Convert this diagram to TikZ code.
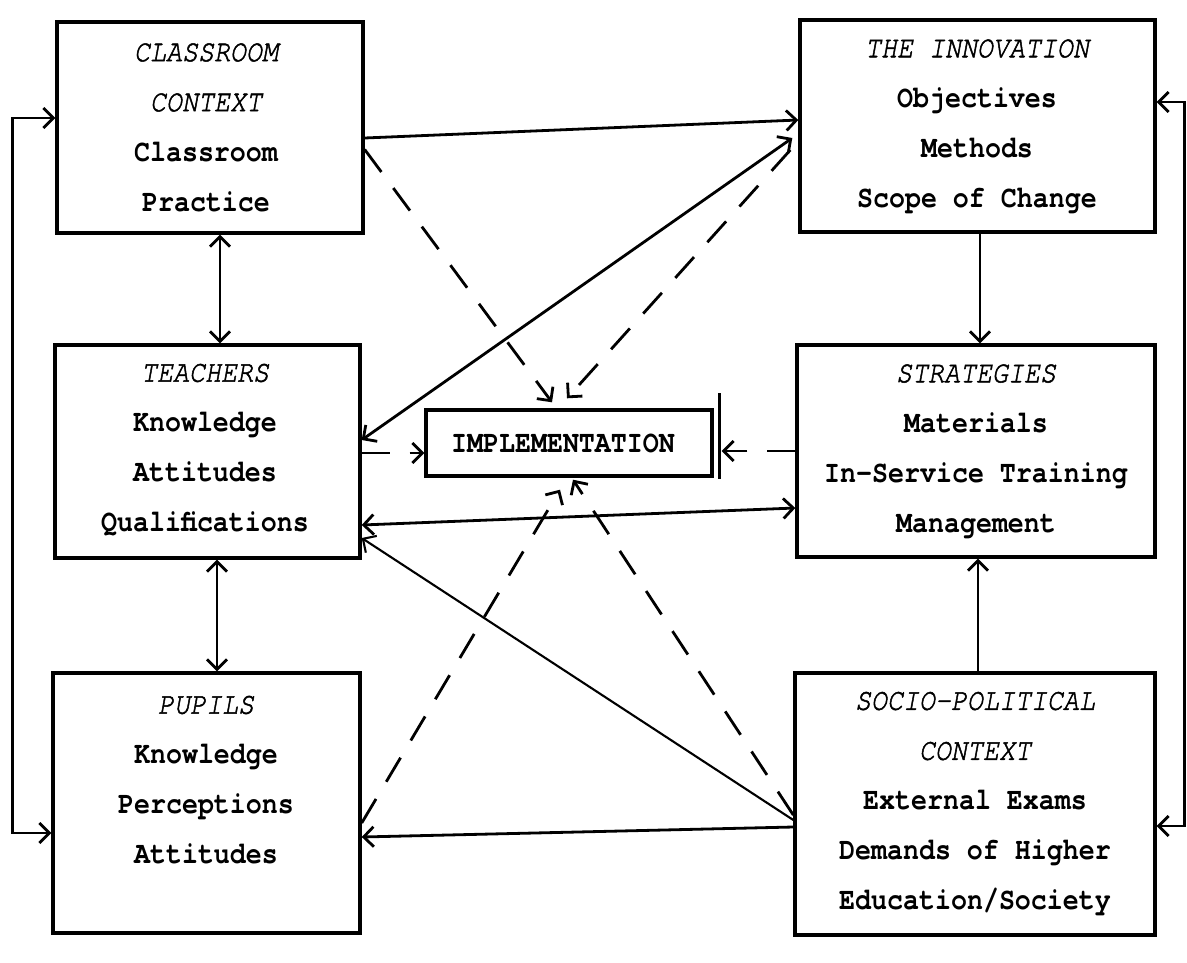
\documentclass[tikz,border=0pt]{standalone}
\usepackage{fontspec}
\newfontfamily\tw{TeX Gyre Cursor}[FakeStretch=0.86]
\newfontfamily\twi{TeX Gyre Cursor}[FakeStretch=0.86,FakeBold=1.6]
\usetikzlibrary{arrows.meta}
\newcommand\hd[1]{{\twi\mdseries\itshape #1}}
\begin{document}
\begin{tikzpicture}[x=1pt,y=-1pt,
  box/.style={draw,line width=3.4pt,inner sep=0pt},
  txt/.style={align=center,font=\tw\bfseries\fontsize{31}{50}\selectfont,inner sep=0pt},
  conn/.style={line width=2.8pt,>={Straight Barb[length=10pt,width=20pt]}},
  thin/.style={conn,line width=2.1pt},
  dsh/.style={conn,dash pattern=on 28pt off 20pt},
]
\useasboundingbox (0,0) rectangle (1187,962);
\fill[white] (0,0) rectangle (1187,962);

% boxes
\node[box,minimum width=306pt,minimum height=211pt] (cls) at (210,127.5) {};
\node[box,minimum width=355pt,minimum height=212pt] (inn) at (977.5,126) {};
\node[box,minimum width=305pt,minimum height=213pt] (tea) at (207.5,451.5) {};
\node[box,minimum width=358pt,minimum height=212pt] (str) at (976,451) {};
\node[box,minimum width=307pt,minimum height=260pt] (pup) at (206.5,803) {};
\node[box,minimum width=360pt,minimum height=262pt] (soc) at (975,804) {};
\node[box,minimum width=286pt,minimum height=66pt] (imp) at (569,443) {};
\draw[line width=3.4pt] ([xshift=6pt,yshift=15pt]imp.north east) -- ([xshift=6pt,yshift=-1pt]imp.south east);

% texts
\node[txt] (clsT) at (206,127.5) {\hd{CLASSROOM}\\\hd{CONTEXT}\\Classroom\\Practice};
\node[txt] (innT) at (977,126.5) {\hd{THE INNOVATION}\\Objectives\\Methods\\Scope of Change};
\node[txt] (teaT) at (205,450) {\hd{TEACHERS}\\Knowledge\\Attitudes\\Qualifications};
\node[txt] (strT) at (976,451.5) {\hd{STRATEGIES}\\Materials\\In-Service Training\\Management};
\node[txt] (pupT) at (206,780) {\hd{PUPILS}\\Knowledge\\Perceptions\\Attitudes};
\node[txt] (socT) at (975,804) {\hd{SOCIO-POLITICAL}\\\hd{CONTEXT}\\External Exams\\Demands of Higher\\Education/Society};
\node[txt] (impT) at (563,443) {IMPLEMENTATION};

% vertical links
\draw[conn,<->] ([xshift=10pt]cls.south) -- ([xshift=12.5pt]tea.north);
\draw[conn,<->] ([xshift=9.5pt]tea.south) -- ([xshift=10.5pt]pup.north);
\draw[conn,->] ([xshift=2.5pt]inn.south) -- ([xshift=4pt]str.north);
\draw[conn,->] ([xshift=3pt]soc.north) -- ([xshift=2pt]str.south);

% feedback loops
\draw[conn,<->] ([yshift=9.5pt]cls.west) -- ++(-43,0) |- ([yshift=-30pt]pup.west);
\draw[conn,<->] ([yshift=24pt]inn.east) -- ++(28,0) |- ([yshift=-22pt]soc.east);

% solid diagonals
\draw[conn,->] ([yshift=-10.5pt]cls.east) -- ([yshift=6pt]inn.west);
\draw[conn,<->] ([yshift=11.5pt]tea.east) -- ([xshift=-6pt,yshift=-12pt]inn.west);
\draw[conn,<->] ([yshift=-73.5pt]tea.east) -- ([yshift=-57pt]str.west);
\draw[thin,->] ([yshift=-16pt]soc.west) -- ([yshift=-86.5pt]tea.east);
\draw[conn,->] ([yshift=-23pt]soc.west) -- ([yshift=-34pt]pup.east);

% dashed links to implementation
\draw[dsh,->] ([yshift=-22pt]cls.east) -- ([xshift=-17pt,yshift=6pt]imp.north);
\draw[dsh,->] ([xshift=-8pt,yshift=-24pt]inn.west) -- ([xshift=-2pt,yshift=10pt]imp.north);
\draw[dsh,->] ([yshift=-1.5pt]tea.east) -- ([yshift=-10pt]imp.west);
\draw[dsh,->] (str.west) -- ([xshift=8pt,yshift=-8pt]imp.east);
\draw[dsh,->] ([yshift=-11pt]soc.west) -- ([xshift=4pt,yshift=-2pt]imp.south);
\draw[dsh,->] ([yshift=-20pt]pup.east) -- ([xshift=-9pt,yshift=-12pt]imp.south);
\end{tikzpicture}
\end{document}
